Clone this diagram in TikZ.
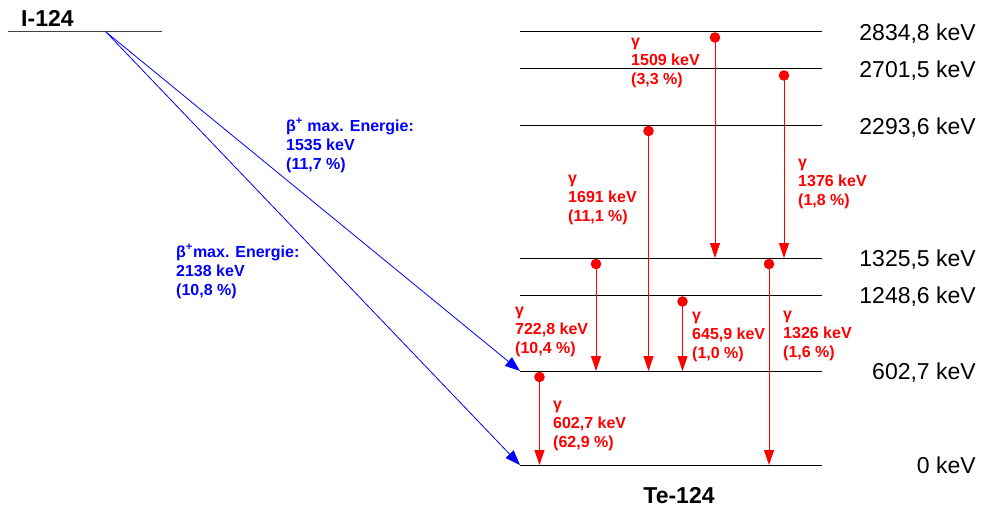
\documentclass[tikz,border=0pt]{standalone}
\usepackage{fontspec}
\setmainfont{Liberation Sans}
\usetikzlibrary{arrows.meta}
\begin{document}
\begin{tikzpicture}[x=1pt,y=-1pt,
 levelline/.style={line width=1pt,black},
 gam/.style={red,line width=0.9pt,-{Triangle[length=15pt,width=10pt]}},
 bet/.style={blue,line width=0.8pt,-{Triangle[length=15pt,width=11pt]}},
 lbl/.style={font=\fontsize{16}{19}\selectfont\bfseries, align=left, anchor=base west, inner sep=0pt},
 glbl/.style={lbl,text=red},
 blbl/.style={lbl,text=blue},
 elbl/.style={font=\fontsize{23}{26}\selectfont, anchor=base east, inner sep=0pt},
 title/.style={font=\fontsize{23}{26}\selectfont\bfseries, inner sep=0pt},
]
\useasboundingbox (0,0) rectangle (982,508);

% I-124 level
\coordinate (Ia) at (8,32);
\coordinate (Ib) at (162,32);
\draw[line width=1pt,black!75] (Ia) -- (Ib);
\node[title, anchor=base west] (I124) at (21,27) {I-124};
\coordinate (Istart) at (106,32);

% Te-124 levels
\foreach \n/\y/\t in {a/32/{2834,8 keV}, b/69/{2701,5 keV}, c/126/{2293,6 keV}, d/258/{1325,5 keV}, e/295/{1248,6 keV}, f/371/{602,7 keV}, g/465/{0 keV}}{
  \coordinate (L\n l) at (520,\y);
  \coordinate (L\n r) at (822,\y);
  \draw[levelline] (L\n l) -- (L\n r);
  \node[elbl] (E\n) at (976,\y+8.5) {\t};
}
\node[title, anchor=base] (Te124) at (679,503) {Te-124};

% beta+ transitions
\draw[bet] (Istart) -- (Lfl);
\draw[bet] (Istart) -- (Lgl);
\node[blbl] (b1) at (286,169) {β\textsuperscript{+} max. Energie:\\1535 keV\\(11,7 \%)};
\node[blbl] (b2) at (176,295) {β\textsuperscript{+}max. Energie:\\2138 keV\\(10,8 \%)};

% gamma transitions: dot -> target
\foreach \nm/\x/\ys/\yt in {g1509/715/37.5/258, g1376/784/75.5/258, g1691/648.5/131/371, g7228/596/264/371, g6459/682.5/301.5/371, g1326/769/264/465, g6027/539.5/377/465}{
  \coordinate (\nm s) at (\x,\ys);
  \coordinate (\nm t) at (\x,\yt);
  \fill[red] (\nm s) circle (5.3);
  \draw[gam] (\nm s) -- (\nm t);
}

\node[glbl] (l1509) at (631,85) {γ\\1509 keV\\(3,3 \%)};
\node[glbl] (l1376) at (798,205) {γ\\1376 keV\\(1,8 \%)};
\node[glbl] (l1691) at (568,221) {γ\\1691 keV\\(11,1 \%)};
\node[glbl] (l7228) at (515,353) {γ\\722,8 keV\\(10,4 \%)};
\node[glbl] (l6459) at (692,358) {γ\\645,9 keV\\(1,0 \%)};
\node[glbl] (l1326) at (783,357) {γ\\1326 keV\\(1,6 \%)};
\node[glbl] (l6027) at (553,447) {γ\\602,7 keV\\(62,9 \%)};
\end{tikzpicture}
\end{document}
